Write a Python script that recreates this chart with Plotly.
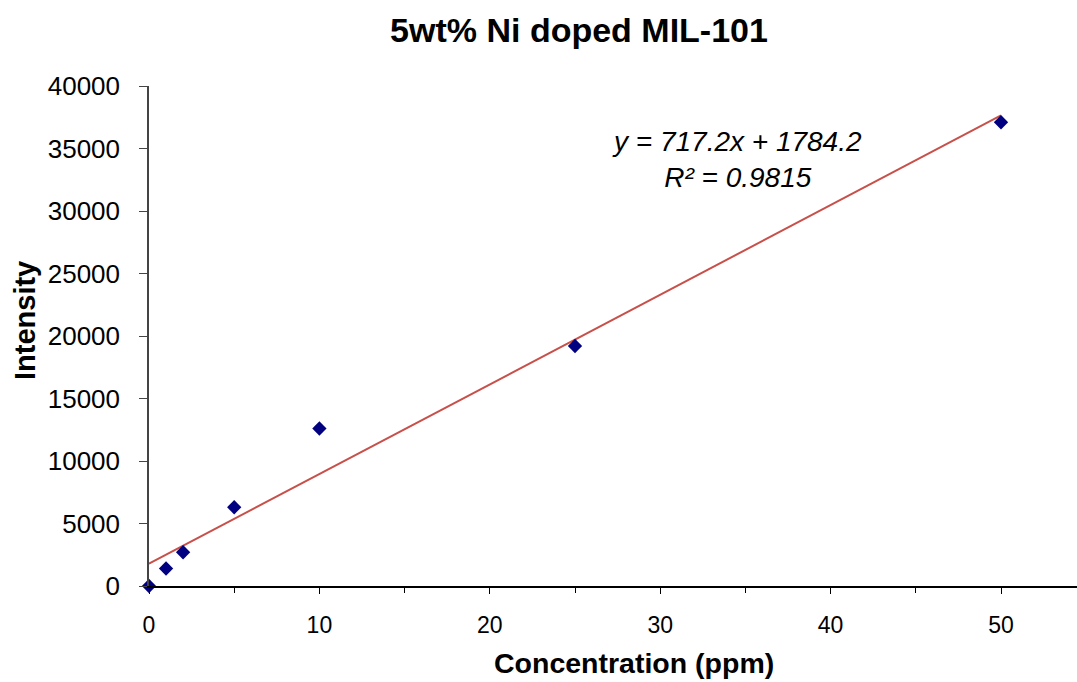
import plotly.graph_objects as go

# Data
concentration = [0, 1, 2, 5, 10, 25, 50]
intensity = [0, 1400, 2700, 6300, 12600, 19200, 37100]
trend_slope = 717.2
trend_intercept = 1784.2
trend_x = [0, 50]
x_ticks = [0, 10, 20, 30, 40, 50]
x_minor_ticks = [5, 15, 25, 35, 45]
y_ticks = [0, 5000, 10000, 15000, 20000, 25000, 30000, 35000, 40000]
title_text = "5wt% Ni doped MIL-101"
x_label = "Concentration (ppm)"
y_label = "Intensity"
eq_text = "y = 717.2x + 1784.2<br>R² = 0.9815"

W, H = 1077, 682
L, R, T, B = 149, 0, 86, 96
pw, ph = W - L - R, H - T - B
xmax = 54.46

def px(x):
    return (x - L) / pw

def py(y):
    return (H - B - y) / ph

font = "Liberation Sans, Arial, sans-serif"

fig = go.Figure()
fig.add_trace(go.Scatter(
    x=trend_x, y=[trend_slope * v + trend_intercept for v in trend_x],
    mode="lines", line=dict(color="#C8504A", width=2), showlegend=False, hoverinfo="skip"))
fig.add_trace(go.Scatter(
    x=concentration, y=intensity, mode="markers",
    marker=dict(symbol="diamond", size=11, color="#000080"),
    showlegend=False, cliponaxis=False))

fig.update_layout(
    width=W, height=H,
    margin=dict(l=L, r=R, t=T, b=B),
    paper_bgcolor="white", plot_bgcolor="white",
    font=dict(family=font, color="black"),
    title=dict(text="<b>" + title_text + "</b>", x=579 / W, xanchor="center",
               y=1 - 30 / H, yanchor="middle", xref="container", yref="container",
               font=dict(size=34, family=font, color="black")),
)
fig.update_xaxes(range=[0, xmax], showgrid=False, zeroline=False,
                 showline=True, linecolor="black", linewidth=1.5,
                 ticks="outside", ticklen=6, tickcolor="black", tickwidth=1,
                 tickvals=x_ticks,
                 minor=dict(tickvals=x_minor_ticks, ticks="outside", ticklen=5, tickcolor="black"),
                 tickfont=dict(size=23, family=font, color="black"),
                 ticklabelstandoff=12)
fig.update_yaxes(range=[0, 40000], showgrid=False, zeroline=False,
                 showline=True, linecolor="#444", linewidth=1.5,
                 ticks="outside", ticklen=8, tickcolor="#444", tickwidth=1,
                 tickvals=y_ticks, ticktext=[str(v) for v in y_ticks],
                 tickfont=dict(size=26, family=font, color="black"),
                 ticklabelstandoff=14)

fig.add_annotation(text="<b>" + x_label + "</b>", x=px(634), y=py(663), xref="paper", yref="paper",
                   showarrow=False, xanchor="center", yanchor="middle",
                   font=dict(size=28.5, family=font, color="black"))
fig.add_annotation(text="<b>" + y_label + "</b>", x=px(25), y=py(321), xref="paper", yref="paper",
                   showarrow=False, xanchor="center", yanchor="middle", textangle=-90,
                   font=dict(size=29, family=font, color="black"))
fig.add_annotation(text="<i>" + eq_text + "</i>", x=px(737), y=py(159), xref="paper", yref="paper",
                   showarrow=False, xanchor="center", yanchor="middle", align="center",
                   font=dict(size=28, family=font, color="black"))

fig.write_html("out.html")
